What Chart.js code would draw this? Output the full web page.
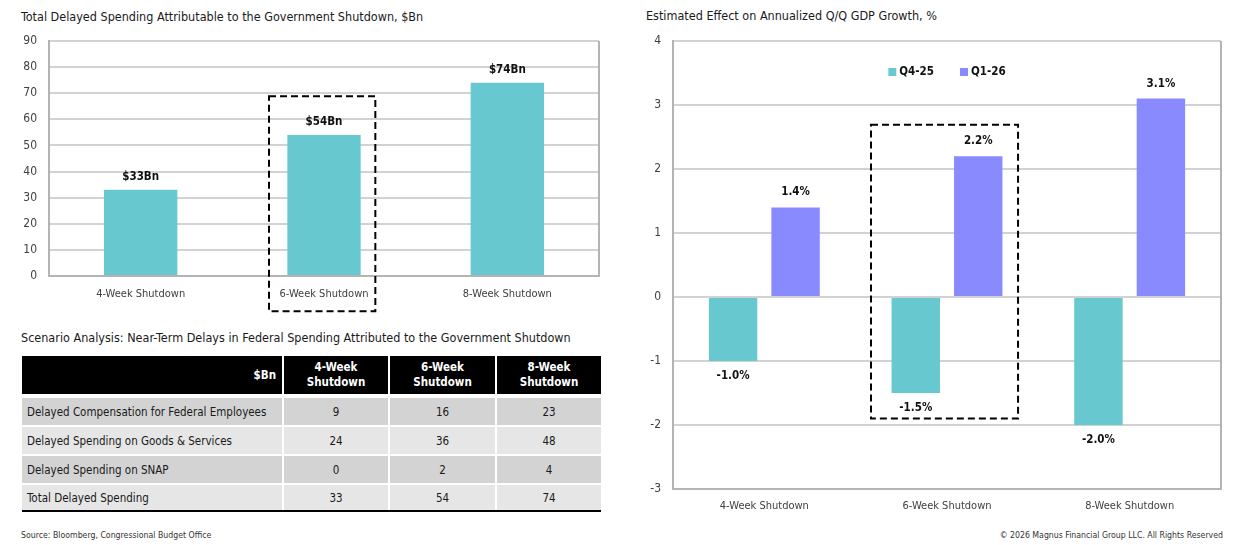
<!DOCTYPE html>
<html>
<head>
<meta charset="utf-8">
<script src="https://cdn.jsdelivr.net/npm/chart.js@4.4.1/dist/chart.umd.min.js"></script>
<style>
  body { margin: 0; width: 1251px; height: 545px; background: #fff; position: relative; overflow: hidden;
         font-family: "Liberation Sans Narrow", "Arial Narrow", "DejaVu Sans Condensed", sans-serif; color: #1a1a1a; }
  .title { position: absolute; font-size: 12.5px; white-space: nowrap; line-height: 16px; }
  .box { position: absolute; }
  .note { position: absolute; font-size: 8.7px; color: #333; white-space: nowrap; line-height: 12px; }
  table { position: absolute; left: 22px; top: 356px; border-collapse: separate; border-spacing: 0; table-layout: fixed;
          width: 579px; font-size: 11.5px; border-bottom: 2px solid #000; }
  th, td { box-sizing: border-box; padding: 0; border-right: 2px solid #fff; }
  th:last-child, td:last-child { border-right: none; }
  th { background: #000; color: #fff; font-weight: bold; height: 38px; line-height: 15px; text-align: center; }
  th.lab { text-align: right; padding-right: 6px; vertical-align: middle; }
  td { height: 29px; border-top: 2px solid #fff; text-align: center; white-space: nowrap; }
  tr.first td { border-top: 4px solid #fff; height: 31px; }
  td.lab { text-align: left; padding-left: 5px; }
  tr.dark td { background: #d3d3d3; }
  tr.light td { background: #e6e6e6; }
  tr.last td { height: 27px; }
</style>
</head>
<body>
<div class="title" style="left:21px;top:9px;">Total Delayed Spending Attributable to the Government Shutdown, $Bn</div>
<div class="title" style="left:646px;top:8px;">Estimated Effect on Annualized Q/Q GDP Growth, %</div>
<div class="title" style="left:21px;top:330px;">Scenario Analysis: Near-Term Delays in Federal Spending Attributed to the Government Shutdown</div>

<div class="box" style="left:0;top:0;width:620px;height:320px;"><canvas id="spendChart"></canvas></div>
<div class="box" style="left:620px;top:0;width:631px;height:520px;"><canvas id="gdpChart"></canvas></div>

<table id="scenarioTable"></table>

<div class="note" style="left:21px;top:529px;">Source: Bloomberg, Congressional Budget Office</div>
<div class="note" style="right:28px;top:529px;">© 2026 Magnus Financial Group LLC. All Rights Reserved</div>

<script>
// dados
const scenarios = ['4-Week Shutdown', '6-Week Shutdown', '8-Week Shutdown'];
const tableHeaders = ['4-Week<br>Shutdown', '6-Week<br>Shutdown', '8-Week<br>Shutdown'];
const rowLabels = ['Delayed Compensation for Federal Employees', 'Delayed Spending on Goods & Services', 'Delayed Spending on SNAP', 'Total Delayed Spending'];
const compensation = [9, 16, 23];
const goodsServices = [24, 36, 48];
const snap = [0, 2, 4];
const totalDelayed = [33, 54, 74];
const q4_25 = [-1.0, -1.5, -2.0];
const q1_26 = [1.4, 2.2, 3.1];
const spendTicks = { min: 0, max: 90, step: 10 };
const gdpTicks = { min: -3, max: 4, step: 1 };

const teal = '#67c9cf';
const purple = '#8a8aff';
const gridColor = '#d2d2d2';
const axisColor = '#b4b4b4';
const fontFamily = '"Liberation Sans Narrow", "Arial Narrow", "DejaVu Sans Condensed", sans-serif';

Chart.defaults.font.family = fontFamily;
Chart.defaults.font.size = 11.5;
Chart.defaults.color = '#404040';

// tabela
const table = document.getElementById('scenarioTable');
let html = '<colgroup><col style="width:262px"><col style="width:106px"><col style="width:107px"><col style="width:104px"></colgroup>';
html += '<tr><th class="lab">$Bn</th>' + tableHeaders.map(h => `<th>${h}</th>`).join('') + '</tr>';
[compensation, goodsServices, snap, totalDelayed].forEach((vals, r) => {
    let cls = (r % 2 === 0 ? 'dark' : 'light') + (r === 0 ? ' first' : '') + (r === 3 ? ' last' : '');
    html += `<tr class="${cls}"><td class="lab">${rowLabels[r].replace('&', '&amp;')}</td>` + vals.map(v => `<td>${v}</td>`).join('') + '</tr>';
});
table.innerHTML = html;

// moldura direita
const framePlugin = {
    id: 'frame',
    beforeDatasetsDraw(chart) {
        const { ctx, chartArea: a } = chart;
        ctx.save();
        ctx.strokeStyle = axisColor;
        ctx.lineWidth = 2;
        ctx.beginPath();
        ctx.moveTo(a.right, a.top);
        ctx.lineTo(a.right, a.bottom);
        ctx.stroke();
        ctx.restore();
    }
};

// rótulos nas barras
const valueLabels = {
    id: 'valueLabels',
    afterDatasetsDraw(chart, args, opts) {
        const ctx = chart.ctx;
        ctx.save();
        ctx.font = `bold 11.5px ${fontFamily}`;
        ctx.fillStyle = '#111';
        ctx.textAlign = 'center';
        ctx.textBaseline = 'middle';
        chart.data.datasets.forEach((ds, di) => {
            chart.getDatasetMeta(di).data.forEach((bar, i) => {
                const v = ds.data[i];
                const y = v >= 0 ? bar.y - opts.offset : bar.y + opts.offset;
                ctx.fillText(opts.format(v), bar.x, y);
            });
        });
        ctx.restore();
    }
};

// caixa tracejada
const dashedBox = {
    id: 'dashedBox',
    afterDraw(chart, args, opts) {
        const { ctx, scales: { x, y } } = chart;
        const x0 = x.getPixelForValue(opts.x0), x1 = x.getPixelForValue(opts.x1);
        const y0 = y.getPixelForValue(opts.y0), y1 = y.getPixelForValue(opts.y1);
        ctx.save();
        ctx.strokeStyle = '#000';
        ctx.lineWidth = 2;
        ctx.setLineDash([7, 4]);
        ctx.strokeRect(x0, y1, x1 - x0, y0 - y1);
        ctx.restore();
    }
};

// legenda dentro da área
const innerLegend = {
    id: 'innerLegend',
    afterDraw(chart, args, opts) {
        const { ctx, chartArea: a } = chart;
        ctx.save();
        ctx.font = `bold 11.5px ${fontFamily}`;
        ctx.textBaseline = 'middle';
        const items = chart.data.datasets.map(ds => ({ label: ds.label, color: ds.backgroundColor, w: ctx.measureText(ds.label).width }));
        const total = items.reduce((s, it) => s + opts.box + opts.gap + it.w, 0) + opts.spacing * (items.length - 1);
        let x = (a.left + a.right) / 2 - total / 2;
        const y = a.top + opts.offset;
        items.forEach(it => {
            ctx.fillStyle = it.color;
            ctx.fillRect(x, y - opts.box / 2, opts.box, opts.box);
            x += opts.box + opts.gap;
            ctx.fillStyle = '#111';
            ctx.fillText(it.label, x, y);
            x += it.w + opts.spacing;
        });
        ctx.restore();
    }
};

function yAxis(t, width) {
    return {
        min: t.min, max: t.max,
        ticks: { stepSize: t.step, padding: 12, color: '#404040', font: { size: 12 } },
        grid: { color: gridColor, lineWidth: 2, drawTicks: false },
        border: { color: axisColor, width: 2 },
        afterFit: s => { s.width = width; }
    };
}

function xAxis(pad) {
    return {
        ticks: { padding: pad, color: '#404040', font: { size: 11 } },
        grid: { display: false, drawTicks: false },
        border: { color: axisColor, width: 2 },
        afterFit: s => { s.height = 30; }
    };
}

// Gráfico 1
new Chart(document.getElementById('spendChart'), {
    type: 'bar',
    data: {
        labels: scenarios,
        datasets: [{ label: 'Total Delayed Spending', data: totalDelayed, backgroundColor: teal, categoryPercentage: 1, barPercentage: 0.4 }]
    },
    options: {
        responsive: true, maintainAspectRatio: false, animation: false,
        layout: { padding: { top: 41, right: 21, bottom: 14, left: 0 } },
        plugins: {
            legend: { display: false }, tooltip: { enabled: false },
            valueLabels: { offset: 13, format: v => `$${v}Bn` },
            dashedBox: { x0: 0.70, x1: 1.28, y0: -13.5, y1: 68.8 }
        },
        scales: { x: xAxis(12), y: yAxis(spendTicks, 49) }
    },
    plugins: [framePlugin, valueLabels, dashedBox]
});

// Gráfico 2
new Chart(document.getElementById('gdpChart'), {
    type: 'bar',
    data: {
        labels: scenarios,
        datasets: [
            { label: 'Q4-25', data: q4_25, backgroundColor: teal, categoryPercentage: 0.684, barPercentage: 0.775 },
            { label: 'Q1-26', data: q1_26, backgroundColor: purple, categoryPercentage: 0.684, barPercentage: 0.775 }
        ]
    },
    options: {
        responsive: true, maintainAspectRatio: false, animation: false,
        layout: { padding: { top: 41, right: 30, bottom: 1, left: 0 } },
        plugins: {
            legend: { display: false }, tooltip: { enabled: false },
            valueLabels: { offset: 15, format: v => `${v.toFixed(1)}%` },
            dashedBox: { x0: 0.584, x1: 1.389, y0: -1.9, y1: 2.69 },
            innerLegend: { box: 8, gap: 3, spacing: 26, offset: 31 }
        },
        scales: { x: xAxis(11), y: yAxis(gdpTicks, 53) }
    },
    plugins: [framePlugin, valueLabels, dashedBox, innerLegend]
});
</script>
</body>
</html>
